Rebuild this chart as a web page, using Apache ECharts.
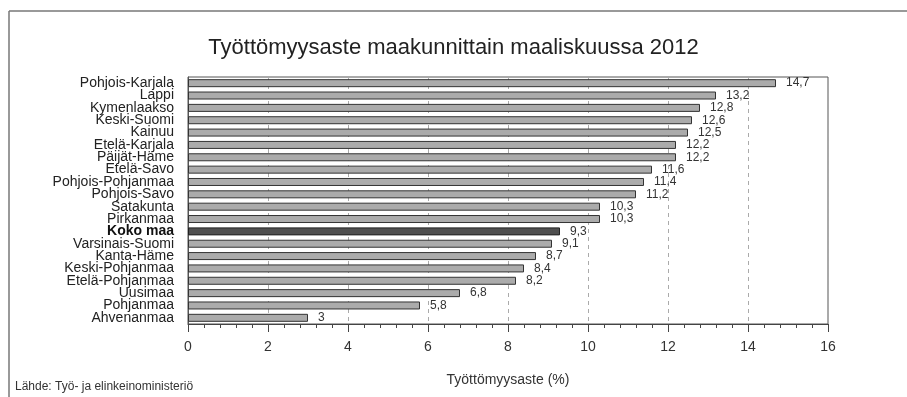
<!DOCTYPE html>
<html>
<head>
<meta charset="utf-8">
<script src="https://cdn.jsdelivr.net/npm/echarts@6/dist/echarts.min.js"></script>
<style>
html,body{margin:0;padding:0;background:#fff;}
#chart{width:907px;height:397px;}
</style>
</head>
<body>
<div id="chart"></div>
<script>
const titleText = 'Työttömyysaste maakunnittain maaliskuussa 2012';
const sourceText = 'Lähde: Työ- ja elinkeinoministeriö';
const axisTitle = 'Työttömyysaste (%)';
const categories = ['Pohjois-Karjala','Lappi','Kymenlaakso','Keski-Suomi','Kainuu','Etelä-Karjala','Päijät-Häme','Etelä-Savo','Pohjois-Pohjanmaa','Pohjois-Savo','Satakunta','Pirkanmaa','Koko maa','Varsinais-Suomi','Kanta-Häme','Keski-Pohjanmaa','Etelä-Pohjanmaa','Uusimaa','Pohjanmaa','Ahvenanmaa'];
const values = [14.7,13.2,12.8,12.6,12.5,12.2,12.2,11.6,11.4,11.2,10.3,10.3,9.3,9.1,8.7,8.4,8.2,6.8,5.8,3];
const highlight = 'Koko maa';
const xMin = 0, xMax = 16, xStep = 2;

const FONT = '"Liberation Sans", Arial, Helvetica, sans-serif';
const chart = echarts.init(document.getElementById('chart'), null, {renderer:'canvas'});

const data = values.map((v,i) => ({
  value: v,
  itemStyle: categories[i] === highlight
    ? {color:'#4f4f4f', borderColor:'#222', borderWidth:1}
    : {color:'#ababab', borderColor:'#333', borderWidth:1}
}));

chart.setOption({
  animation:false,
  backgroundColor:'#fff',
  textStyle:{fontFamily:FONT},
  title:{
    text:titleText,
    left:'center',
    top:32,
    textStyle:{fontFamily:FONT,fontSize:22,fontWeight:'normal',color:'#222'}
  },
  grid:{left:188,right:79,top:77,bottom:73,show:true,borderColor:'#555',borderWidth:1,backgroundColor:'transparent'},
  xAxis:{
    type:'value',
    min:xMin,max:xMax,interval:xStep,
    name:axisTitle,
    nameLocation:'middle',
    nameGap:49,
    nameTextStyle:{fontFamily:FONT,fontSize:14,color:'#333'},
    axisLine:{show:true,lineStyle:{color:'#444',width:1}},
    axisTick:{show:true,length:8,lineStyle:{color:'#444'}},
    minorTick:{show:true,splitNumber:5,length:4,lineStyle:{color:'#444'}},
    axisLabel:{fontFamily:FONT,fontSize:14,color:'#333',margin:16},
    splitLine:{show:true,lineStyle:{color:'#aaa',type:[4,4],width:1}}
  },
  yAxis:{
    type:'category',
    data:categories,
    inverse:true,
    axisLine:{show:true,lineStyle:{color:'#555'}},
    axisTick:{show:false},
    axisLabel:{
      interval:0,
      hideOverlap:false,
      fontFamily:FONT,fontSize:14,lineHeight:12,color:'#222',margin:14,
      formatter:(v)=> v === highlight ? '{b|'+v+'}' : v,
      rich:{b:{fontFamily:FONT,fontSize:14,lineHeight:12,fontWeight:'bold',color:'#111'}}
    }
  },
  series:[{
    type:'bar',
    data:data,
    barWidth:8,
    z:3,
    label:{
      show:true,position:'right',distance:10,
      fontFamily:FONT,fontSize:12,color:'#333',
      formatter:(p)=> String(p.value).replace('.',',')
    }
  }],
  graphic:[
    {type:'line',shape:{x1:9,y1:11,x2:907,y2:11},style:{stroke:'#777',lineWidth:1.5},silent:true},
    {type:'line',shape:{x1:9,y1:11,x2:9,y2:397},style:{stroke:'#777',lineWidth:1.5},silent:true},
    {type:'text',left:15,top:381,style:{text:sourceText,font:'12px '+FONT,fill:'#333'},silent:true}
  ]
});
</script>
</body>
</html>
